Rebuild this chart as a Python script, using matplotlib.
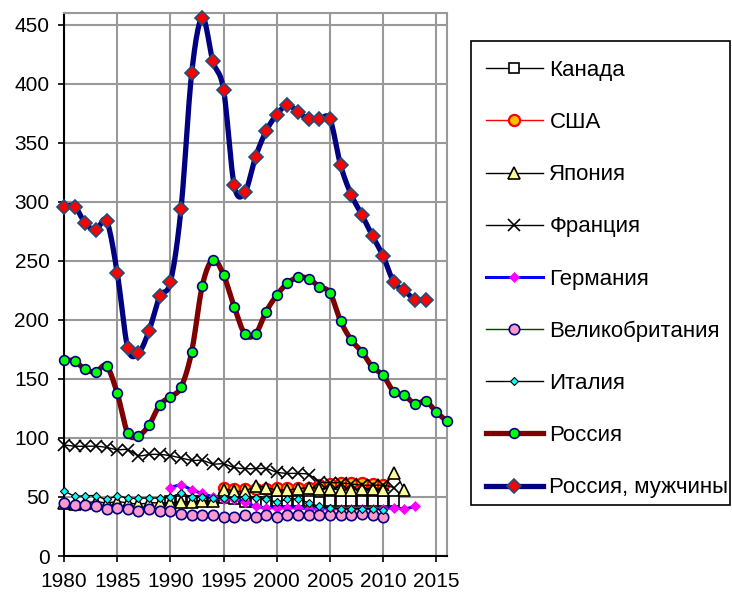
import numpy as np
import matplotlib
matplotlib.use("Agg")
import matplotlib.pyplot as plt
from matplotlib.lines import Line2D
from matplotlib.patches import Rectangle

plt.rcParams['font.family'] = ['Liberation Sans', 'DejaVu Sans']

# ---- data ----
ru_men_start = 1980
ru_men = [296, 296, 282, 276, 284, 240, 176, 172, 191, 220, 232, 294, 409, 456, 419,
          395, 314, 308, 338, 360, 374, 382, 376, 370, 370, 370, 331, 306, 289, 271,
          254, 232, 225, 217, 217]
ru_start = 1980
ru = [166, 165, 158, 156, 161, 138, 104, 102, 111, 128, 135, 143, 173, 229, 251, 238,
      211, 188, 188, 207, 221, 231, 236, 235, 228, 223, 199, 183, 173, 160, 153, 139,
      136, 129, 131, 122, 114]
france_start = 1980
france = [94, 93, 93, 93, 92, 90, 90, 85, 86, 86, 85, 83, 81, 81, 78, 78, 75, 74, 74,
          74, 71, 70, 70, 69, 63, 62, 62, 61, 60, 60, 60, 58]
japan_start = 1980
japan = [45, 44, 45, 46, 45, 46, 45, 44, 45, 45, 45, 46, 46, 47, 47,
         56, 55, 55, 59, 58, 56, 56, 57, 58, 57, 57, 56, 56, 57, 57, 56, 70, 56]
usa_start = 1995
usa = [58, 57, 57, 57, 57, 58, 58, 58, 58, 60, 61, 62, 62, 62, 61, 60]
canada_start = 1990
canada = [47, 47, 47, 47, 47, 49, 48, 46, 46, 46, 47, 47, 47, 47, 46, 47, 47, 47, 47,
          47, 47, 47]
germany_start = 1990
germany = [58, 60, 56, 53, 50, 48, 48, 46, 42, 41, 41, 41, 41, 40, 40, 40, 40, 40, 40,
           40, 40, 41, 40, 42]
uk_start = 1980
uk = [45, 43, 43, 42, 40, 41, 40, 38, 40, 38, 38, 36, 35, 35, 35, 33, 33, 35, 33, 35,
      33, 35, 35, 35, 35, 35, 35, 35, 36, 35, 33]
italy_start = 1980
italy = [55, 51, 51, 51, 48, 51, 49, 49, 49, 49, 50, 53, 50, 50, 49, 49, 49, 50, 49,
         48, 46, 48, 48, 45, 42, 41, 40, 40, 40, 40, 39]

labels = ["Канада", "США", "Япония", "Франция", "Германия", "Великобритания",
          "Италия", "Россия", "Россия, мужчины"]


def smooth(x, y, n=12):
    """Catmull-Rom curve through the data points (rendering only)."""
    x = np.asarray(x, float)
    y = np.asarray(y, float)
    if len(x) < 3:
        return x, y
    px = np.concatenate([[2 * x[0] - x[1]], x, [2 * x[-1] - x[-2]]])
    py = np.concatenate([[2 * y[0] - y[1]], y, [2 * y[-1] - y[-2]]])
    t = np.linspace(0, 1, n, endpoint=False)
    xs, ys = [], []
    for i in range(1, len(px) - 2):
        for p, out in ((px, xs), (py, ys)):
            p0, p1, p2, p3 = p[i - 1], p[i], p[i + 1], p[i + 2]
            out.extend(0.5 * ((2 * p1) + (-p0 + p2) * t +
                              (2 * p0 - 5 * p1 + 4 * p2 - p3) * t ** 2 +
                              (-p0 + 3 * p1 - 3 * p2 + p3) * t ** 3))
    xs.append(x[-1])
    ys.append(y[-1])
    return np.array(xs), np.array(ys)


W, H = 732, 592
fig = plt.figure(figsize=(W / 100, H / 100), dpi=100)
ax = fig.add_axes([64 / W, 1 - 556 / H, (447 - 64) / W, (556 - 13) / H])

styles = [
    (canada_start, canada, dict(color='black', lw=1.0),
     dict(marker='s', ms=7.5, mfc='white', mec='black', mew=1.2)),
    (usa_start, usa, dict(color='red', lw=1.0),
     dict(marker='o', ms=8, mfc='#FFC000', mec='red', mew=1.6)),
    (japan_start, japan, dict(color='black', lw=1.0),
     dict(marker='^', ms=9, mfc='#FFFF99', mec='black', mew=1.2)),
    (france_start, france, dict(color='black', lw=1.0),
     dict(marker='x', ms=8, mfc='black', mec='black', mew=1.2)),
    (germany_start, germany, dict(color='#0000FF', lw=2.2),
     dict(marker='D', ms=5.5, mfc='#FF00FF', mec='#FF00FF', mew=0.5)),
    (uk_start, uk, dict(color='#004000', lw=1.0),
     dict(marker='o', ms=7.5, mfc='#FF99CC', mec='#000080', mew=1.2)),
    (italy_start, italy, dict(color='black', lw=1.0),
     dict(marker='D', ms=4.5, mfc='#00FFFF', mec='black', mew=0.8)),
    (ru_start, ru, dict(color='#800000', lw=3.8),
     dict(marker='o', ms=7, mfc='#00FF00', mec='#000080', mew=1.2)),
    (ru_men_start, ru_men, dict(color='#000080', lw=3.8),
     dict(marker='D', ms=7, mfc='#FF0000', mec='#1F4E79', mew=1.2)),
]

handles = []
for k, (start, vals, lstyle, mstyle) in enumerate(styles):
    yrs = np.arange(start, start + len(vals))
    sx, sy = smooth(yrs, vals)
    ax.plot(sx, sy, solid_capstyle='round', zorder=3 + k, **lstyle)
    ax.plot(yrs, vals, linestyle='none', zorder=3 + k, clip_on=False, **mstyle)
    handles.append(Line2D([], [], **lstyle, **mstyle))

ax.set_xlim(1980, 2016)
ax.set_ylim(0, 460)
ax.set_xticks(np.arange(1980, 2016, 5))
ax.set_yticks(np.arange(0, 451, 50))
ax.grid(True, color='#999999', lw=1.5, zorder=0)
ax.set_axisbelow(True)
for s in ('top', 'right'):
    ax.spines[s].set_color('#999999')
    ax.spines[s].set_linewidth(1.5)
for s in ('left', 'bottom'):
    ax.spines[s].set_color('black')
    ax.spines[s].set_linewidth(1.5)
ax.tick_params(axis='both', direction='out', length=4.5, width=1.2, labelsize=15,
               colors='black')
ax.tick_params(axis='y', pad=6)
ax.tick_params(axis='x', pad=7)

# legend box (frame drawn separately)
fig.patches.append(Rectangle((471 / W, 1 - 505 / H), (730 - 471) / W, (505 - 41) / H,
                             transform=fig.transFigure, fill=False,
                             edgecolor='black', lw=1.2))
leg = fig.legend(handles, labels, loc='upper left',
                 bbox_to_anchor=(471 / W, 1 - 45 / H),
                 fontsize=16, frameon=False,
                 handlelength=2.55, handletextpad=0.3, labelspacing=1.40,
                 borderpad=0.68, borderaxespad=0)

fig.savefig("out.png", dpi=100)
